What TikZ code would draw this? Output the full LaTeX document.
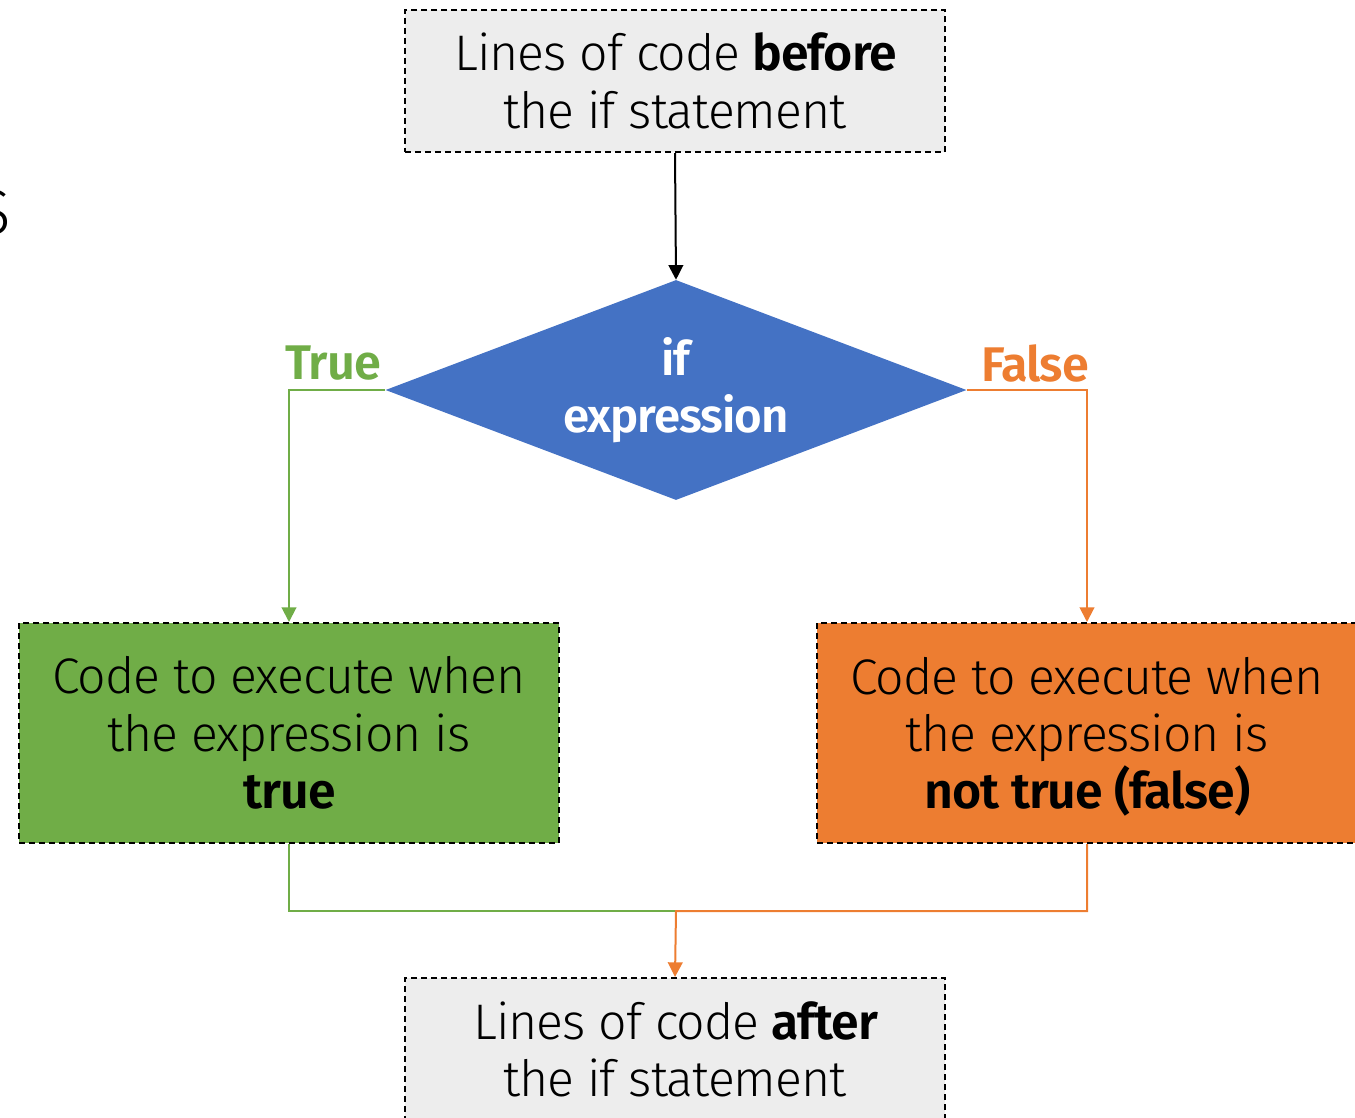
\documentclass[tikz,border=0pt]{standalone}
\usepackage{fontspec}
\setmainfont{Fira Sans Light}[BoldFont={Fira Sans SemiBold},LetterSpace=-2.0]
\usetikzlibrary{shapes.geometric,arrows.meta}
\definecolor{boxgray}{HTML}{EDEDED}
\definecolor{dblue}{HTML}{4472C4}
\definecolor{tgreen}{HTML}{70AD47}
\definecolor{forange}{HTML}{ED7D31}
\begin{document}
\begin{tikzpicture}[x=0.75pt,y=-0.75pt,
  codebox/.style={draw=black,dash pattern=on 4.5pt off 3pt,line width=1.5pt,
    minimum width=405pt,inner sep=0pt,align=center,
    font=\fontsize{37.5}{43}\selectfont},
  lbl/.style={inner sep=0pt,font=\fontsize{36.5}{43}\selectfont\bfseries},
  conn/.style={line width=1.5pt,-{Triangle[length=11pt,width=11pt]}},
  plainconn/.style={line width=1.5pt}]
\useasboundingbox (0,0) rectangle (1355,1117);
\node[anchor=east,inner sep=0pt,font=\fontsize{48}{50}\selectfont] (cut) at (11,213) {S};
\node[codebox,fill=boxgray,minimum height=106.5pt] (before) at (675,81)
  {Lines of code \textbf{before}\\the if statement};
\node[diamond,aspect=2.64,fill=dblue,minimum width=435.75pt,minimum height=165pt,inner sep=0pt,
  align=center,text=white,font=\fontsize{35.5}{43}\selectfont\bfseries] (dia) at (676,390)
  {if\\expression};
\node[codebox,fill=tgreen,minimum height=165pt] (tbox) at (289,733)
  {Code to execute when\\the expression is\\\textbf{true}};
\node[codebox,fill=forange,minimum height=165pt] (fbox) at (1087,733)
  {Code to execute when\\the expression is\\\smash{\textbf{not true (false)}}};
\node[codebox,fill=boxgray,minimum height=106.5pt] (after) at (675,1049)
  {Lines of code \textbf{after}\\the if statement};
\coordinate (join) at (676,911);
\node[lbl,text=tgreen] (tlab) at (333,363) {True};
\node[lbl,text=forange] (flab) at (1035,363) {False};
\draw[conn,black] (before.south) -- (dia.north);
\draw[conn,tgreen] (dia.west) -| (tbox.north);
\draw[conn,forange] (dia.east) -| (fbox.north);
\draw[plainconn,tgreen] (tbox.south) |- (join);
\draw[conn,forange] (fbox.south) |- (join) -- (after.north);
\end{tikzpicture}
\end{document}
